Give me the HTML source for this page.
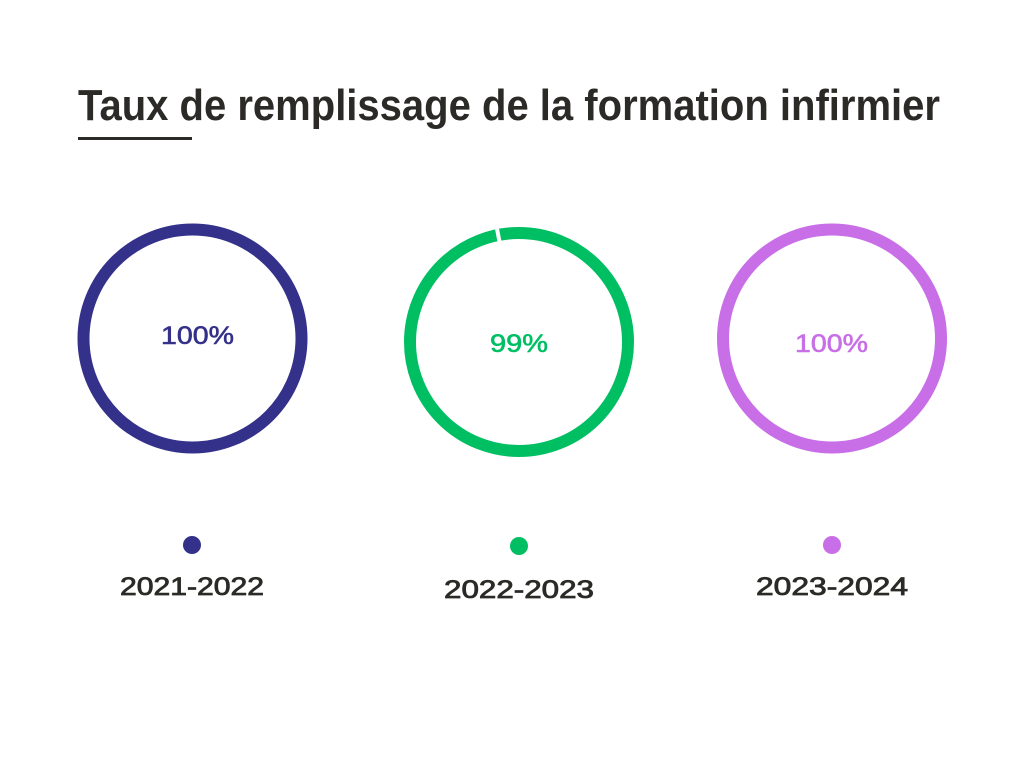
<!DOCTYPE html>
<html><head><meta charset="utf-8"><style>body{margin:0;background:#fff}</style></head><body>
<svg width="1024" height="768" xmlns="http://www.w3.org/2000/svg">
<rect width="1024" height="768" fill="#fff"/>
<text x="78" y="120" font-family="Liberation Sans Narrow, Liberation Sans, sans-serif" font-weight="bold" font-size="44" fill="#2b2a27" textLength="862" lengthAdjust="spacingAndGlyphs">Taux de remplissage de la formation infirmier</text>
<rect x="78" y="137" width="114" height="3" fill="#2b2a27"/>
<g fill="none" stroke-width="12">
<circle cx="192.5" cy="338.5" r="109" stroke="#34318a"/>
<circle cx="519" cy="342" r="109" stroke="#00bf63"/>
<circle cx="832" cy="338.5" r="109" stroke="#c86ee6"/>
</g>
<rect x="517" y="225" width="4" height="16" fill="#fff" transform="rotate(-11 519 342)"/>
<g font-family="Liberation Sans, sans-serif" font-size="25" stroke-width="0.6">
<text x="161" y="344" fill="#34318a" stroke="#34318a" textLength="73" lengthAdjust="spacingAndGlyphs">100%</text>
<text x="490" y="352" fill="#00bf63" stroke="#00bf63" textLength="58" lengthAdjust="spacingAndGlyphs">99%</text>
<text x="795" y="352" fill="#c86ee6" stroke="#c86ee6" textLength="73" lengthAdjust="spacingAndGlyphs">100%</text>
</g>
<circle cx="192" cy="545" r="9" fill="#34318a"/>
<circle cx="519" cy="546" r="9" fill="#00bf63"/>
<circle cx="832" cy="545" r="9" fill="#c86ee6"/>
<g font-family="Liberation Sans, sans-serif" font-size="25" fill="#2b2a27" stroke="#2b2a27" stroke-width="0.8">
<text x="120" y="595" textLength="144" lengthAdjust="spacingAndGlyphs">2021-2022</text>
<text x="444" y="598" textLength="150" lengthAdjust="spacingAndGlyphs">2022-2023</text>
<text x="756" y="595" textLength="152" lengthAdjust="spacingAndGlyphs">2023-2024</text>
</g>
</svg>
</body></html>
